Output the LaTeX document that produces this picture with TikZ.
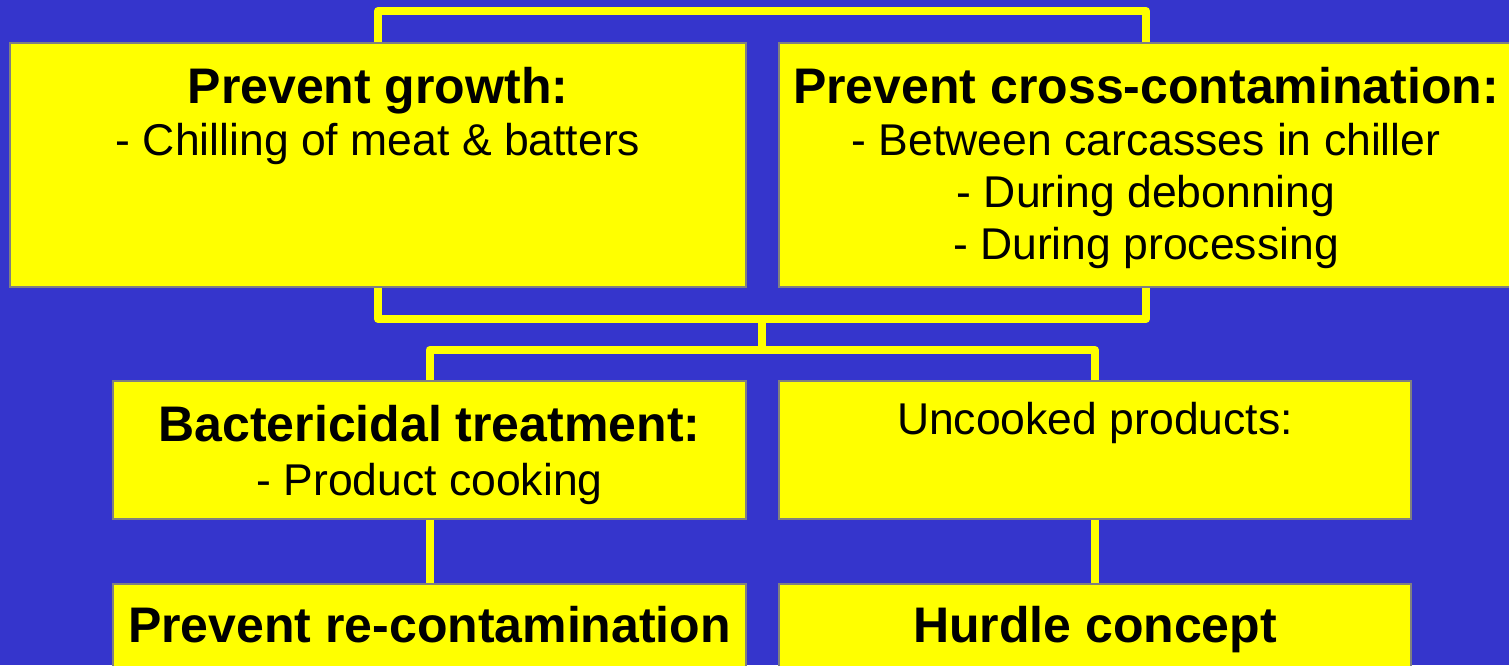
\documentclass[tikz,border=0pt]{standalone}
\usepackage{fontspec}
\setmainfont{Liberation Sans}
\definecolor{bgblue}{HTML}{3535CC}
\definecolor{boxyellow}{HTML}{FFFF00}
\definecolor{edgegrey}{HTML}{808080}
\tikzset{
  box/.style={draw=edgegrey, line width=2.5pt, fill=boxyellow, rectangle, inner sep=0pt},
  link/.style={draw=boxyellow, line width=8pt, line join=round},
  head/.style={anchor=base, inner sep=0pt, font=\fontsize{50}{52}\selectfont\bfseries},
  item/.style={anchor=base, inner sep=0pt, font=\fontsize{44.5}{52}\selectfont},
}
\begin{document}
\begin{tikzpicture}[x=1pt, y=-1pt]
\useasboundingbox (0,0) rectangle (1509,665);
\clip (0,0) rectangle (1509,665);
\fill[bgblue] (0,0) rectangle (1509,665);

% junction points of the connectors
\coordinate (j1) at (762,319);
\coordinate (j2) at (762,350);
\coordinate (topbar) at (0,11);

% boxes
\node[box, minimum width=736pt, minimum height=244pt] (growth) at (378,165) {};
\node[box, minimum width=734pt, minimum height=244pt] (cross) at (1146,165) {};
\node[box, minimum width=633pt, minimum height=138pt] (bact) at (429.5,450) {};
\node[box, minimum width=632pt, minimum height=138pt] (uncooked) at (1095,450) {};
\node[box, minimum width=633pt, minimum height=140pt] (recont) at (429.5,654) {};
\node[box, minimum width=632pt, minimum height=140pt] (hurdle) at (1095,654) {};

% connectors
\draw[link] (growth.north) |- (topbar -| cross.north) -- (cross.north);
\draw[link] (growth.south) |- (j1) -| (cross.south);
\draw[link] (j1) -- (j2);
\draw[link] (bact.north) |- (j2) -| (uncooked.north);
\draw[link] (bact.south) -- (recont.north);
\draw[link] (uncooked.south) -- (hurdle.north);

% texts
\node[head] (t1) at (378,103) {Prevent growth:};
\node[item] (t1a) at (378,155) {- Chilling of meat \& batters};

\node[head] (t2) at (1146,103) {Prevent cross-contamination:};
\node[item] (t2a) at (1146,155) {- Between carcasses in chiller};
\node[item] (t2b) at (1146,207) {- During debonning};
\node[item] (t2c) at (1146,259) {- During processing};

\node[head] (t3) at (429.5,441) {Bactericidal treatment:};
\node[item] (t3a) at (429.5,495) {- Product cooking};

\node[item] (t4) at (1095,434) {Uncooked products:};

\node[head] (t5) at (429.5,642) {Prevent re-contamination};
\node[head] (t6) at (1095,642) {Hurdle concept};
\end{tikzpicture}
\end{document}
